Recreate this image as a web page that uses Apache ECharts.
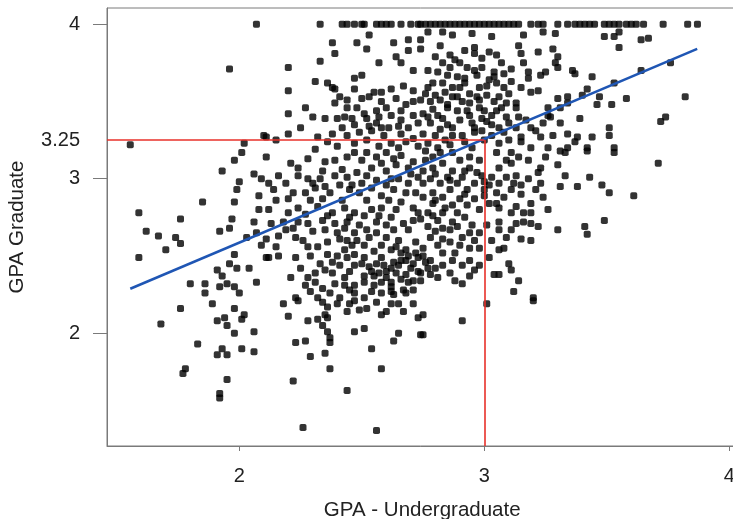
<!DOCTYPE html>
<html>
<head>
<meta charset="utf-8">
<script src="https://cdn.jsdelivr.net/npm/echarts@6/dist/echarts.min.js"></script>
<style>html,body{margin:0;padding:0;background:#fff}#c{width:733px;height:519px}</style>
</head>
<body>
<div id="c"></div>
<script>
// Undergraduate GPA of students whose graduate GPA is 4.0 (top row)
const topRowUndergrad = [2.07, 2.33, 2.42, 2.44, 2.47, 2.50, 2.51, 2.56, 2.58, 2.60, 2.62, 2.66, 2.70, 2.73,
  2.74, 2.76, 2.78, 2.80, 2.82, 2.84, 2.86, 2.88, 2.90, 2.92, 2.94, 2.96, 2.98, 3.00, 3.02, 3.04, 3.06,
  3.08, 3.10, 3.12, 3.14, 3.19, 3.22, 3.24, 3.30, 3.34, 3.37, 3.39, 3.41, 3.43, 3.45, 3.49, 3.51, 3.53,
  3.55, 3.58, 3.60, 3.62, 3.65, 3.73, 3.83, 3.87];
const topRowGrad = 4.0;

// [undergraduate GPA, graduate GPA] for the remaining students
const students = [
  [1.555,3.22],[1.96,3.71],[2.02,3.23],[2.10,3.28],
  [2.01,3.17],[1.98,3.12],[1.93,3.05],[2.06,3.03],[2.00,2.98],[2.09,3.00],[1.99,2.93],[2.08,2.89],
  [1.85,2.85],[1.98,2.85],[1.59,2.78],[2.08,2.80],[1.76,2.74],[1.97,2.74],[2.06,2.72],[1.62,2.66],
  [1.67,2.63],[1.92,2.66],[1.96,2.68],[1.74,2.62],[2.07,2.65],[1.76,2.58],[2.03,2.62],[1.70,2.54],
  [2.09,2.57],[1.59,2.49],[1.98,2.51],[2.11,2.49],[1.96,2.45],[1.99,2.42],[2.04,2.42],[1.91,2.41],
  [1.93,2.37],[2.07,2.33],[1.80,2.32],[1.86,2.32],[1.95,2.32],[1.92,2.30],[1.98,2.30],[1.86,2.26],[2.00,2.26],
  [1.89,2.19],[1.98,2.16],[1.76,2.16],[2.02,2.12],[1.94,2.10],[1.91,2.08],[2.01,2.09],[1.68,2.06],
  [1.95,2.05],[1.98,2.00],[2.06,2.01],[1.83,1.93],[1.93,1.90],[1.91,1.86],[1.95,1.86],[2.01,1.90],
  [2.06,1.88],[1.78,1.77],[1.77,1.74],[1.95,1.70],[1.92,1.61],[1.92,1.58],
  [2.53,3.93],[2.38,3.88],[2.48,3.88],[2.63,3.88],[2.69,3.90],[2.39,3.81],[2.52,3.84],[2.69,3.83],
  [2.33,3.76],[2.57,3.75],[2.64,3.79],[2.66,3.75],[2.20,3.72],[2.71,3.70],[2.47,3.65],[2.50,3.67],
  [2.31,3.63],[2.36,3.62],[2.38,3.59],[2.39,3.58],[2.47,3.58],[2.58,3.56],[2.62,3.58],[2.67,3.60],
  [2.71,3.57],[2.20,3.57],[2.44,3.51],[2.50,3.52],[2.53,3.53],[2.58,3.50],[2.39,3.49],[2.27,3.46],
  [2.48,3.46],[2.60,3.46],[2.68,3.48],[2.71,3.50],[2.20,3.42],[2.35,3.39],[2.40,3.39],[2.43,3.40],
  [2.46,3.39],[2.52,3.39],[2.57,3.40],[2.62,3.41],[2.66,3.38],[2.71,3.41],[2.25,3.33],[2.47,3.35],
  [2.53,3.34],[2.58,3.33],[2.61,3.33],[2.65,3.34],[2.69,3.33],[2.73,3.36],[2.20,3.29],[2.32,3.27],
  [2.38,3.29],[2.49,3.30],[2.54,3.31],[2.15,3.25],[2.11,3.27],[2.36,3.24],[2.47,3.23],[2.52,3.25],
  [2.62,3.23],[2.68,3.24],[2.71,3.26],
  [2.77,3.95],[2.83,3.95],[2.87,3.93],[2.95,3.94],[3.03,3.92],[3.16,3.93],[3.24,3.95],[3.29,3.94],[2.74,3.90],
  [2.82,3.86],[2.96,3.85],[3.02,3.82],[3.14,3.86],[3.22,3.82],[3.28,3.84],[2.74,3.84],
  [2.96,3.81],[3.05,3.80],[3.15,3.81],[3.30,3.79],[2.83,3.75],[2.88,3.77],[2.90,3.75],[3.07,3.75],[3.16,3.75],[3.29,3.75],
  [2.77,3.70],[2.81,3.69],[2.96,3.70],[3.04,3.69],[3.11,3.71],[3.18,3.69],[3.25,3.69],[3.30,3.72],[3.36,3.70],
  [2.85,3.67],[2.89,3.66],[2.97,3.67],[3.04,3.66],[3.18,3.65],[3.23,3.67],
  [2.79,3.62],[2.83,3.62],[2.92,3.62],[3.02,3.64],[3.05,3.62],
  [2.77,3.59],[2.87,3.59],[2.90,3.59],[2.98,3.59],[3.08,3.59],[3.15,3.59],[3.19,3.56],[3.22,3.57],
  [2.80,3.54],[2.87,3.53],[2.89,3.53],[2.97,3.53],[3.01,3.54],[3.06,3.53],[3.30,3.52],[3.34,3.53],
  [2.74,3.51],[2.78,3.50],[2.82,3.51],[2.91,3.50],[2.94,3.49],[3.04,3.50],[3.09,3.49],[3.13,3.49],[3.34,3.49],
  [2.79,3.45],[2.85,3.46],[2.89,3.44],[2.98,3.46],[3.00,3.44],[3.05,3.44],[3.13,3.46],[3.26,3.46],[3.31,3.46],
  [2.75,3.42],[2.81,3.41],[2.83,3.39],[2.94,3.41],[2.99,3.39],[3.03,3.41],[3.09,3.40],[3.14,3.40],[3.26,3.41],[3.27,3.40],
  [2.78,3.36],[2.85,3.35],[2.87,3.33],[2.95,3.36],[2.96,3.33],[3.03,3.35],[3.06,3.33],[3.13,3.33],[3.19,3.33],[3.24,3.36],[3.31,3.36],
  [2.75,3.29],[2.80,3.28],[2.87,3.28],[2.91,3.28],[2.96,3.30],[3.03,3.28],[3.15,3.27],[3.23,3.27],[3.28,3.28],[3.34,3.29],
  [2.77,3.23],[2.81,3.20],[2.86,3.22],[2.95,3.20],[3.06,3.23],[3.15,3.24],[3.19,3.20],[3.26,3.20],[3.34,3.20],
  [3.49,3.92],[3.53,3.92],[3.55,3.95],[3.64,3.90],[3.67,3.91],[3.55,3.85],[3.37,3.68],[3.44,3.66],
  [3.53,3.62],[3.64,3.70],[3.76,3.75],[3.42,3.58],[3.40,3.54],[3.47,3.53],[3.46,3.48],[3.52,3.48],
  [3.58,3.52],[3.82,3.53],[3.39,3.39],[3.74,3.40],[3.72,3.37],[3.51,3.33],[3.51,3.28],[3.38,3.27],
  [3.44,3.27],[3.42,3.20],[3.53,3.20],[3.37,3.24],
  [3.42,3.18],[3.53,3.17],[3.71,3.10],[3.43,3.01],[3.38,2.95],[3.48,2.96],[3.51,2.91],[3.61,2.89],
  [3.49,2.73],[3.41,2.69],[3.42,2.64],
  [3.05,3.17],[3.11,3.17],[3.14,3.14],[3.31,3.18],[3.33,3.17],[3.30,3.09],[3.33,3.02],[3.23,3.07],
  [3.22,3.04],[3.23,2.97],[3.31,2.95],[3.18,3.00],[3.11,3.10],[3.06,3.07],[3.03,3.01],[3.09,3.01],
  [3.13,3.02],[3.06,2.97],[3.12,2.97],[3.11,2.93],[3.05,2.91],[3.02,2.84],[3.05,2.84],[3.06,2.81],
  [3.13,2.82],[3.11,2.78],[3.19,2.84],[3.19,2.78],[3.16,2.72],[3.19,2.71],[3.22,2.69],[3.13,2.71],
  [3.11,2.67],[3.06,2.72],[3.06,2.67],[3.15,2.61],[3.19,2.60],[3.30,2.67],[3.08,2.55],[3.06,2.54],
  [3.02,2.49],[3.10,2.45],[3.11,2.41],[3.04,2.38],[3.06,2.38],[3.14,2.34],[3.12,2.27],[3.20,2.23],
  [2.76,3.18],[2.82,3.17],[2.87,3.17],[2.94,3.14],[2.98,3.12],[2.90,3.12],[2.83,3.10],[2.79,3.07],
  [2.75,3.05],[2.87,3.05],[2.94,3.07],[2.97,3.04],[2.91,3.01],[2.85,3.01],[2.78,3.00],[2.75,2.97],
  [2.82,2.97],[2.89,2.97],[2.96,2.97],[3.00,2.98],[3.00,2.93],[2.93,2.93],[2.86,2.93],[2.79,2.91],
  [2.75,2.88],[2.83,2.88],[2.90,2.87],[2.96,2.87],[2.79,2.84],[2.87,2.83],[2.93,2.83],[2.77,2.78],
  [2.83,2.78],[2.89,2.78],[2.74,2.74],[2.81,2.73],[2.87,2.72],[2.77,2.69],[2.83,2.68],[2.86,2.67],
  [2.94,2.65],[2.98,2.65],[2.78,2.62],[2.83,2.61],[2.96,2.60],[2.90,2.57],[2.75,2.55],[2.83,2.52],
  [2.98,2.55],[2.88,2.52],[2.78,2.47],[2.83,2.44],[2.94,2.47],[2.98,2.44],[2.96,2.41],[2.74,2.39],
  [2.81,2.36],[2.91,2.32],
  [2.75,2.12],[2.75,1.99],[2.91,2.08],[3.01,2.19],[3.20,2.21],
  [2.18,2.19],[2.24,2.21],[2.34,2.20],[2.36,2.17],[2.45,2.19],[2.47,2.21],[2.56,2.20],[2.62,2.19],
  [2.65,2.19],[2.71,2.19],[2.20,2.11],[2.28,2.08],[2.32,2.09],[2.35,2.12],[2.36,2.10],[2.34,2.05],
  [2.36,2.01],[2.44,2.14],[2.49,2.15],[2.60,2.14],[2.73,2.10],[2.47,2.01],[2.51,2.03],[2.65,2.00],
  [2.63,1.95],[2.74,1.99],[2.23,1.94],[2.27,1.95],[2.37,1.97],[2.37,1.94],[2.54,1.90],[2.29,1.85],
  [2.35,1.87],[2.37,1.77],[2.58,1.77],[2.22,1.69],[2.44,1.63],[2.26,1.39],[2.56,1.37],
  [2.28,3.13],[2.21,3.10],[2.24,3.07],[2.35,3.11],[2.39,3.12],[2.44,3.14],[2.47,3.17],[2.52,3.17],
  [2.56,3.14],[2.60,3.17],[2.63,3.13],[2.66,3.15],[2.58,3.10],[2.71,3.11],[2.54,3.07],[2.60,3.05],[2.11,3.14],
  [2.16,3.02],[2.12,2.97],[2.19,2.97],[2.24,3.02],[2.28,3.00],[2.30,2.97],[2.33,3.00],[2.39,3.02],
  [2.44,3.01],[2.48,3.04],[2.52,3.02],[2.65,3.00],[2.69,2.97],[2.73,3.01],[2.50,2.97],[2.41,2.96],
  [2.14,2.93],[2.22,2.91],[2.27,2.91],[2.31,2.94],[2.37,2.91],[2.45,2.93],[2.49,2.91],[2.54,2.94],
  [2.58,2.89],[2.63,2.93],[2.68,2.91],[2.72,2.91],[2.15,2.86],[2.20,2.87],[2.29,2.86],[2.34,2.87],
  [2.42,2.86],[2.52,2.86],[2.61,2.86],[2.66,2.85],
  [2.12,2.80],[2.20,2.78],[2.24,2.81],[2.32,2.82],[2.38,2.78],[2.43,2.81],[2.47,2.78],[2.54,2.80],
  [2.58,2.81],[2.64,2.80],[2.71,2.81],[2.73,2.78],
  [2.13,2.71],[2.18,2.72],[2.24,2.72],[2.28,2.71],[2.34,2.73],[2.39,2.71],[2.44,2.72],[2.49,2.70],
  [2.56,2.72],[2.60,2.70],[2.67,2.71],[2.71,2.73],[2.19,2.67],[2.35,2.67],[2.43,2.68],[2.52,2.67],
  [2.63,2.67],[2.69,2.67],
  [2.11,2.61],[2.16,2.63],[2.23,2.62],[2.28,2.56],[2.32,2.56],[2.41,2.61],[2.46,2.57],[2.48,2.60],
  [2.53,2.62],[2.58,2.57],[2.65,2.60],[2.72,2.59],[2.15,2.56],[2.62,2.54],[2.68,2.54],[2.43,2.54],
  [2.12,2.49],[2.16,2.50],[2.23,2.49],[2.40,2.50],[2.44,2.49],[2.51,2.49],[2.58,2.49],[2.59,2.44],
  [2.63,2.46],[2.65,2.44],[2.68,2.47],[2.71,2.45],[2.73,2.49],[2.41,2.44],[2.47,2.44],[2.53,2.43],
  [2.21,2.36],[2.28,2.36],[2.31,2.39],[2.38,2.39],[2.43,2.36],[2.51,2.37],[2.57,2.39],[2.60,2.36],
  [2.64,2.39],[2.68,2.38],[2.71,2.34],[2.27,2.31],[2.34,2.29],[2.39,2.32],[2.47,2.31],[2.55,2.31],
  [2.62,2.30],[2.23,2.23],[2.32,2.23],[2.41,2.23],[2.47,2.26],[2.51,2.23],[2.58,2.26],[2.68,2.26],[2.71,2.28],
  // dense core, lower middle
  [2.64,2.56],[2.66,2.52],[2.69,2.50],[2.72,2.52],[2.75,2.50],[2.66,2.47],[2.70,2.42],[2.73,2.40],
  [2.62,2.42],[2.66,2.35],[2.69,2.33],[2.74,2.34],[2.77,2.42],[2.78,2.38],[2.62,2.33],[2.60,2.40],
  [2.56,2.45],[2.55,2.37],[2.67,2.28],[2.63,2.25],
  // dense core, upper right of centre
  [2.80,3.79],[2.86,3.80],[2.92,3.83],[2.99,3.78],[2.93,3.72],[2.86,3.72],[2.99,3.72],[3.08,3.68],
  [2.92,3.65],[3.01,3.60],[2.94,3.55],[2.84,3.56],[2.76,3.55],[3.10,3.55],[3.11,3.63],[2.85,3.48],
  [2.98,3.51],[3.07,3.46],[2.93,3.44],[2.77,3.40],[2.90,3.38],[3.01,3.37],[3.10,3.36],[2.82,3.32],
  [2.99,3.31],[3.08,3.30],[2.84,3.25],[2.92,3.24],[3.00,3.25],[3.10,3.25],[3.21,3.31],[3.17,3.38],
  // dense core, upper left of centre
  [2.41,3.53],[2.55,3.56],[2.64,3.52],[2.44,3.46],[2.56,3.44],[2.66,3.44],[2.30,3.40],[2.51,3.42],
  [2.42,3.33],[2.56,3.36],[2.44,3.28],[2.59,3.28],[2.66,3.29],[2.40,3.21],[2.57,3.21],[2.65,3.20],
  [2.73,3.21],[2.31,3.19],[2.50,3.12],[2.69,3.07],[2.42,3.06],[2.34,3.05],[2.64,3.09],[2.56,2.99],
  [2.46,2.96],[2.60,2.96],[2.35,2.95],[2.70,3.03],[2.76,3.12],[2.79,3.14],[2.62,3.00],
  // dense core, lower left
  [2.27,2.77],[2.36,2.76],[2.45,2.75],[2.51,2.76],[2.57,2.76],[2.62,2.75],[2.22,2.68],[2.30,2.66],
  [2.40,2.65],[2.47,2.65],[2.56,2.65],[2.60,2.62],[2.26,2.60],[2.36,2.59],[2.44,2.60],[2.51,2.57],
  [2.55,2.53],[2.47,2.51],[2.36,2.51],[2.29,2.50],[2.33,2.45],[2.38,2.46],[2.50,2.45],[2.25,2.42],
  [2.35,2.41],[2.45,2.40],[2.54,2.40],[2.31,2.33],[2.43,2.31],[2.51,2.33],[2.58,2.33],[2.37,2.26],
  [2.45,2.28],[2.54,2.27],[2.62,2.27],[2.29,2.27],[2.40,2.19],[2.52,2.16],[2.58,2.12],[2.67,2.14],
  // dense core, around the reference line
  [2.80,3.03],[2.92,3.05],[2.99,3.02],[2.86,2.99],[2.80,2.86],[2.92,2.90],[2.98,2.80],[2.84,2.81],
  [2.92,2.75],[2.79,2.76],[2.95,2.70],[2.89,2.69],[2.80,2.66],[2.91,2.62],[2.86,2.59],[2.81,2.57],
  [2.94,2.55],[2.87,2.47],[2.91,2.44],[2.80,2.42],[2.86,2.39],[2.94,2.37],[2.76,2.46],[2.88,2.34],
  [3.01,2.70],[3.03,2.60],[3.00,2.89],[3.02,2.96],[3.08,2.88],[3.15,2.90],[3.15,2.96],[3.16,2.78],
  [3.09,2.62],[3.24,2.88],[3.26,2.80],[3.09,3.12],[3.18,3.12],[3.25,3.14],[3.21,2.93]
];

// least-squares fit drawn across the observed undergraduate range
const fitIntercept = 1.245;
const fitSlope = 0.6707;
const fitRange = [1.555, 3.869];

// reference point highlighted with red guide lines
const refUndergrad = 3;
const refGrad = 3.25;

const xTicks = [2, 3, 4];
const yTicks = [2, 3, 4];
const yLabels = [2, 3, 3.25, 4];

const xMin = 1.46, xMax = 4.07, yMin = 1.27, yMax = 4.105;

const points = topRowUndergrad.map(x => [x, topRowGrad]).concat(students);

const chart = echarts.init(document.getElementById('c'), null, {renderer: 'canvas'});
const axisColor = '#7a7a7a';
const textColor = '#222';
const fontFamily = 'Liberation Sans, Arial, Helvetica, sans-serif';
const pxPerUnitX = 245, pxPerUnitY = 154.5;

chart.setOption({
  animation: false,
  backgroundColor: '#fff',
  grid: {left: 107, top: 8, width: (xMax - xMin) * pxPerUnitX, height: (yMax - yMin) * pxPerUnitY,
    outerBoundsMode: 'none', containLabel: false,
    show: true, borderColor: axisColor, borderWidth: 1, backgroundColor: 'transparent'},
  xAxis: {
    type: 'value', min: xMin, max: xMax,
    name: 'GPA - Undergraduate', nameLocation: 'middle', nameGap: 54,
    nameTextStyle: {color: textColor, fontSize: 20.5, fontFamily, padding: [0, 9, 0, 0]},
    axisLine: {show: true, lineStyle: {color: axisColor, width: 1}},
    axisTick: {show: true, inside: false, length: 5, customValues: xTicks, lineStyle: {color: axisColor}},
    axisLabel: {customValues: xTicks, color: textColor, fontSize: 20, fontFamily, margin: 20},
    splitLine: {show: false}
  },
  yAxis: {
    type: 'value', min: yMin, max: yMax,
    name: 'GPA Graduate', nameLocation: 'middle', nameGap: 79,
    nameTextStyle: {color: textColor, fontSize: 20.5, fontFamily},
    axisLine: {show: true, lineStyle: {color: axisColor, width: 1}},
    axisTick: {show: true, inside: false, length: 14, customValues: yTicks, lineStyle: {color: axisColor}},
    axisLabel: {customValues: yLabels, color: textColor, fontSize: 20, fontFamily, margin: 27,
      formatter: v => String(v)},
    splitLine: {show: false}
  },
  series: [
    {
      type: 'scatter', data: points, symbol: 'roundRect', symbolSize: 7,
      itemStyle: {color: '#000'}, silent: true, z: 2
    },
    {
      type: 'line', data: fitRange.map(x => [x, fitIntercept + fitSlope * x]),
      showSymbol: false, lineStyle: {color: '#1f56b4', width: 2.5}, silent: true, z: 4,
      markLine: {
        silent: true, symbol: 'none', animation: false,
        lineStyle: {color: '#e8302a', width: 1.6, type: 'solid'},
        label: {show: false},
        data: [
          [{coord: [xMin, refGrad]}, {coord: [refUndergrad, refGrad]}],
          [{coord: [refUndergrad, refGrad]}, {coord: [refUndergrad, yMin]}]
        ]
      }
    }
  ]
});
</script>
</body>
</html>
